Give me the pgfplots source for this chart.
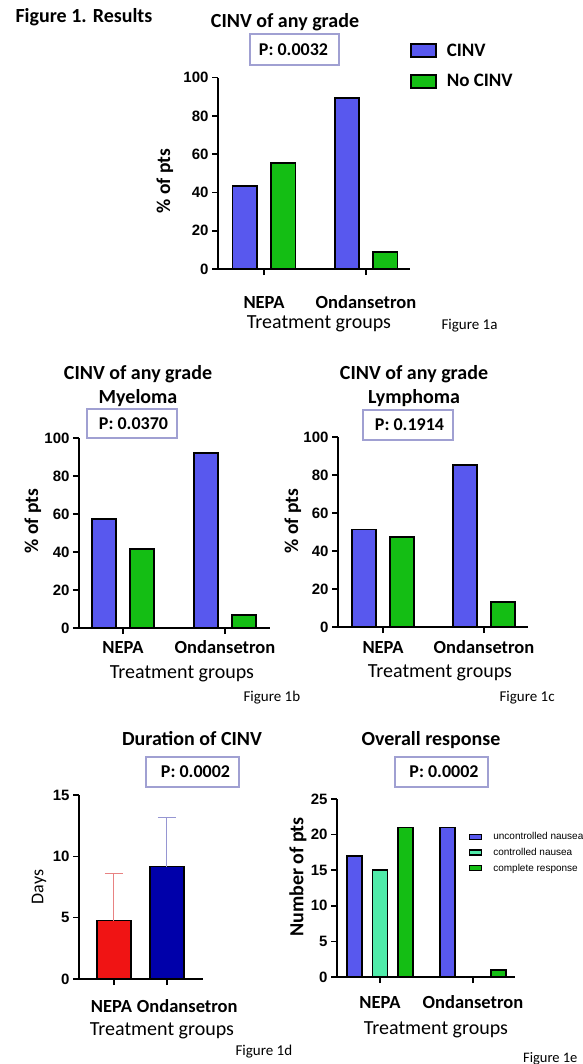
\documentclass[border=0pt]{standalone}
\usepackage{pgfplots}
\pgfplotsset{compat=1.18}
\usepackage{fontspec}
\setmainfont{Carlito}
\newfontfamily\arialf{Liberation Sans}
\newcommand{\fs}[1]{\fontsize{#1}{#1}\selectfont}
\definecolor{cblue}{RGB}{88,88,238}
\definecolor{cgreen}{RGB}{20,190,20}
\definecolor{cmint}{RGB}{80,235,170}
\definecolor{cred}{RGB}{240,20,20}
\definecolor{cnavy}{RGB}{0,0,170}
\definecolor{pbox}{RGB}{160,160,210}
\definecolor{ered}{RGB}{232,130,130}
\definecolor{eblue}{RGB}{150,150,210}
\pgfplotsset{
  prism/.style={
    scale only axis, clip=false, anchor=south west,
    axis lines=left,
    axis line style={-, line width=1.8pt},
    major tick style={line width=1.6pt, black},
    major tick length=6pt,
    tick align=outside,
    ymin=0,
    xtick={0,1},
    xticklabels={NEPA,Ondansetron},
    yticklabel style={font=\arialf\bfseries\fs{15}},
    /pgf/number format/assume math mode=true,
    xticklabel style={font=\bfseries\fs{18.5}, anchor=base},
    every axis plot/.append style={ybar, draw=black, line width=1.6pt},
  },
}
\begin{document}
\begin{tikzpicture}
\useasboundingbox (0pt,0pt) rectangle (582pt,-1064pt);
% ---------------- Figure 1a
\begin{axis}[prism, at={(218pt,-269pt)}, width=192pt, height=191.3pt,
  xmin=-0.451, xmax=1.431, ymax=100, ytick={0,20,...,100}, bar width=0.24,
  xticklabel style={yshift=-33pt},
  legend image code/.code={\draw[#1, line width=1.6pt] (0pt,-6.5pt) rectangle (25pt,6.5pt); \path (33pt,0pt);},
  legend style={at={(axis description cs:1.0,1.19)}, anchor=north west, draw=none, fill=none,
    font=\bfseries\fs{19}, row sep=13pt, inner sep=0pt},
  legend cell align=left]
\addplot[fill=cblue, bar shift=-0.187] coordinates {(0,43.5) (1,89.3)};
\addplot[fill=cgreen, bar shift=0.19] coordinates {(0,55.5) (1,8.9)};
\legend{CINV, No CINV}
\end{axis}
% ---------------- Figure 1b
\begin{axis}[prism, at={(79pt,-628pt)}, width=191pt, height=190pt,
  xmin=-0.431, xmax=1.441, ymax=100, ytick={0,20,...,100}, bar width=0.235,
  xticklabel style={yshift=-19pt}]
\addplot[fill=cblue, bar shift=-0.185] coordinates {(0,57.5) (1,92.2)};
\addplot[fill=cgreen, bar shift=0.186] coordinates {(0,41.5) (1,6.7)};
\end{axis}
% ---------------- Figure 1c
\begin{axis}[prism, at={(338pt,-627pt)}, width=190pt, height=190pt,
  xmin=-0.446, xmax=1.436, ymax=100, ytick={0,20,...,100}, bar width=0.238,
  xticklabel style={yshift=-20pt}]
\addplot[fill=cblue, bar shift=-0.188] coordinates {(0,51.4) (1,85.4)};
\addplot[fill=cgreen, bar shift=0.188] coordinates {(0,47.5) (1,13.2)};
\end{axis}
% ---------------- Figure 1d
\begin{axis}[prism, at={(79pt,-979pt)}, width=124pt, height=184pt,
  xmin=-0.66, xmax=1.68, ymax=15, ytick={0,5,10,15}, bar width=0.64,
  xticklabels={\makebox[0pt][l]{\hspace{-23pt}NEPA},\makebox[0pt][l]{\hspace{-30pt}Ondansetron}},
  xticklabel style={yshift=-27pt}]
\addplot[fill=cred, bar shift=0,
  error bars/.cd, y dir=plus, y explicit,
  error bar style={draw=ered, line width=1pt},
  error mark options={rotate=90, draw=ered, mark size=9pt, line width=1pt}]
  coordinates {(0,4.77) +- (0,3.8)};
\addplot[fill=cnavy, bar shift=0,
  error bars/.cd, y dir=plus, y explicit,
  error bar style={draw=eblue, line width=1pt},
  error mark options={rotate=90, draw=eblue, mark size=9pt, line width=1pt}]
  coordinates {(1,9.17) +- (0,3.99)};
\end{axis}
% ---------------- Figure 1e
\begin{axis}[prism, at={(337pt,-977pt)}, width=178pt, height=178pt,
  xmin=-0.462, xmax=1.452, ymax=25, ytick={0,5,...,25}, bar width=0.16,
  xticklabel style={yshift=-25pt},
  legend image code/.code={\draw[#1, line width=1.2pt] (0pt,-2.5pt) rectangle (12pt,2.5pt); \path (21pt,0pt);},
  legend style={at={(axis description cs:0.74,0.825)}, anchor=north west, draw=none, fill=none,
    font=\arialf\fs{10}, row sep=3pt, inner sep=0pt},
  legend cell align=left]
\addplot[fill=cblue, bar shift=-0.274] coordinates {(0,17) (1,21)};
\addplot[fill=cmint, bar shift=0] coordinates {(0,15) (1,0)};
\addplot[fill=cgreen, bar shift=0.272] coordinates {(0,21) (1,1)};
\legend{uncontrolled nausea, controlled nausea, complete response}
\end{axis}
% ---------------- texts
\node[anchor=base west, font=\bfseries\fs{20}] at (12pt,-23pt) {Figure 1. Results};
\node[anchor=base, font=\bfseries\fs{20}] at (285pt,-27.3pt) {CINV of any grade};
\node[anchor=base, font=\bfseries\fs{20}] at (138pt,-379pt) {CINV of any grade};
\node[anchor=base, font=\bfseries\fs{20}] at (138pt,-403pt) {Myeloma};
\node[anchor=base, font=\bfseries\fs{20}] at (414pt,-379pt) {CINV of any grade};
\node[anchor=base, font=\bfseries\fs{20}] at (414pt,-403pt) {Lymphoma};
\node[anchor=base, font=\bfseries\fs{20}] at (192pt,-745pt) {Duration of CINV};
\node[anchor=base, font=\bfseries\fs{20}] at (431pt,-745pt) {Overall response};
% P boxes
\draw[pbox, line width=1.3pt, fill=white] (250pt,-34pt) rectangle (339pt,-65pt);
\node[font=\bfseries\fs{18}] at (293.5pt,-49.5pt) {P: 0.0032};
\draw[pbox, line width=1.3pt, fill=white] (87pt,-409pt) rectangle (177pt,-438pt);
\node[font=\bfseries\fs{18}] at (133.5pt,-423.5pt) {P: 0.0370};
\draw[pbox, line width=1.3pt, fill=white] (363pt,-410pt) rectangle (453pt,-440pt);
\node[font=\bfseries\fs{18}] at (409.5pt,-425pt) {P: 0.1914};
\draw[pbox, line width=1.3pt, fill=white] (146pt,-757pt) rectangle (239pt,-787pt);
\node[font=\bfseries\fs{18}] at (195.5pt,-772pt) {P: 0.0002};
\draw[pbox, line width=1.3pt, fill=white] (395pt,-757pt) rectangle (488pt,-787pt);
\node[font=\bfseries\fs{18}] at (444pt,-772pt) {P: 0.0002};
% y labels
\node[rotate=90, font=\bfseries\fs{19.5}] at (165pt,-181pt) {\% of pts};
\node[rotate=90, font=\bfseries\fs{19.5}] at (33pt,-521pt) {\% of pts};
\node[rotate=90, font=\bfseries\fs{19.5}] at (293pt,-521pt) {\% of pts};
\node[rotate=90, font=\fs{18}] at (39pt,-887pt) {Days};
\node[rotate=90, font=\bfseries\fs{20}] at (298pt,-877pt) {Number of pts};
% x labels
\node[anchor=base, font=\fs{20}] at (319pt,-328pt) {Treatment groups};
\node[anchor=base, font=\fs{20}] at (182pt,-678pt) {Treatment groups};
\node[anchor=base, font=\fs{20}] at (440pt,-677pt) {Treatment groups};
\node[anchor=base, font=\fs{20}] at (162pt,-1035pt) {Treatment groups};
\node[anchor=base, font=\fs{20}] at (436pt,-1034pt) {Treatment groups};
% figure captions
\node[anchor=base west, font=\fs{15}] at (438pt,-329pt) {Figure 1a};
\node[anchor=base west, font=\fs{15}] at (240pt,-701pt) {Figure 1b};
\node[anchor=base west, font=\fs{15}] at (496pt,-701pt) {Figure 1c};
\node[anchor=base west, font=\fs{15}] at (232pt,-1055pt) {Figure 1d};
\node[anchor=base east, font=\fs{14.5}] at (581pt,-1062pt) {Figure 1e};
\end{tikzpicture}
\end{document}
